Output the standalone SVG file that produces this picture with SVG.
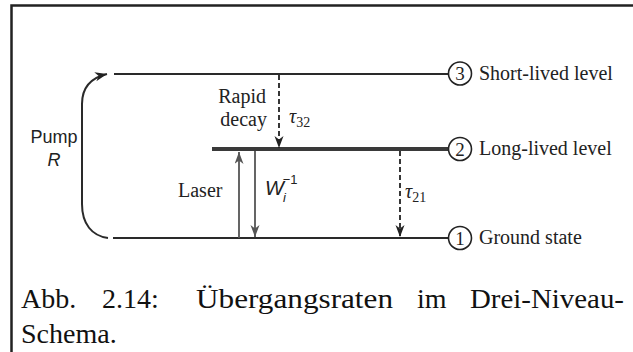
<svg xmlns="http://www.w3.org/2000/svg" width="633" height="352" viewBox="0 0 633 352">
<style>
.lvl{stroke:#2a2a2a;stroke-width:2;fill:none}
.lvl2{stroke:#3a3a3a;stroke-width:4;fill:none}
.circ{fill:#fff;stroke:#222;stroke-width:1.6}
.num{font-family:'Liberation Serif','DejaVu Serif','Times New Roman',serif;font-size:19px;fill:#222;text-anchor:middle}
.lab{font-family:'Liberation Serif','DejaVu Serif','Times New Roman',serif;font-size:20px;fill:#222}
.sans{font-family:'Liberation Sans',Arial,sans-serif;fill:#222}
.dash{stroke:#222;stroke-width:1.8;stroke-dasharray:5,3;fill:none}
.solid{stroke:#555;stroke-width:1.8;fill:none}
.cap{font-family:'Liberation Serif','DejaVu Serif','Times New Roman',serif;font-size:28px;fill:#111}
</style>
<defs>
<marker id="ah" markerUnits="userSpaceOnUse" markerWidth="14" markerHeight="10" refX="12" refY="4.5" orient="auto">
<path d="M0,0 L12,4.5 L0,9 L3.5,4.5 Z" fill="#222"/>
</marker>
<marker id="ahg" markerUnits="userSpaceOnUse" markerWidth="14" markerHeight="10" refX="12" refY="4.5" orient="auto">
<path d="M0,0 L12,4.5 L0,9 L3.5,4.5 Z" fill="#555"/>
</marker>
</defs>
<rect width="633" height="352" fill="#fff"/>
<g id="frame">
<path d="M11.5,352 L11.5,5.5 L633,5.5" stroke="#222" stroke-width="2.5" fill="none"/>
</g>
<g id="level3">
<line class="lvl" x1="114" y1="74" x2="449" y2="74"/>
<circle class="circ" cx="460" cy="73.5" r="11.5"/>
<text class="num" x="460" y="80">3</text>
<text class="lab" x="479" y="80">Short-lived level</text>
</g>
<g id="level2">
<line class="lvl2" x1="212" y1="149" x2="449" y2="149"/>
<circle class="circ" cx="460" cy="149" r="11.5"/>
<text class="num" x="460" y="155.5">2</text>
<text class="lab" x="479" y="155">Long-lived level</text>
</g>
<g id="level1">
<line class="lvl" x1="113" y1="238" x2="449" y2="238"/>
<circle class="circ" cx="460" cy="238" r="11.5"/>
<text class="num" x="460" y="244.5">1</text>
<text class="lab" x="479" y="244">Ground state</text>
</g>
<g id="pump">
<text class="sans" x="54" y="143" font-size="18" text-anchor="middle">Pump</text>
<text class="sans" x="54" y="166" font-size="18" font-style="italic" text-anchor="middle">R</text>
</g>
<g id="labels">
<text class="lab" x="266" y="103" text-anchor="end">Rapid</text>
<text class="lab" x="267" y="126" text-anchor="end">decay</text>
<text class="lab" x="178" y="197">Laser</text>
<text class="lab" x="289" y="123" font-style="italic">τ<tspan font-size="14" font-style="normal" dy="4">32</tspan></text>
<text class="lab" x="405" y="198" font-style="italic">τ<tspan font-size="14" font-style="normal" dy="4">21</tspan></text>
<text class="sans" x="265" y="195" font-size="20" font-style="italic">W<tspan font-size="13" dx="-1" dy="7">i</tspan><tspan font-size="13" font-style="normal" dx="-3" dy="-18">−1</tspan></text>
</g>
<g id="connectors">
<path class="lvl" d="M108,238 C92,236 82,224 82,204 L82,104 C82,88 90,78 107,74" marker-end="url(#ah)"/>
<line class="dash" x1="279" y1="75" x2="279" y2="148" marker-end="url(#ah)"/>
<line class="dash" x1="400" y1="151" x2="400" y2="237" marker-end="url(#ah)"/>
<line class="solid" x1="239" y1="238" x2="239" y2="152" marker-end="url(#ahg)"/>
<line class="solid" x1="255" y1="151" x2="255" y2="237" marker-end="url(#ahg)"/>
</g>
<g id="caption">
<text class="cap" x="21" y="308">Abb.</text>
<text class="cap" x="102" y="308">2.14:</text>
<text class="cap" x="196" y="308" textLength="197" lengthAdjust="spacingAndGlyphs">Übergangsraten</text>
<text class="cap" x="417" y="308">im</text>
<text class="cap" x="470" y="308" textLength="154" lengthAdjust="spacingAndGlyphs">Drei-Niveau-</text>
<text class="cap" x="21" y="343">Schema.</text>
</g>
</svg>
